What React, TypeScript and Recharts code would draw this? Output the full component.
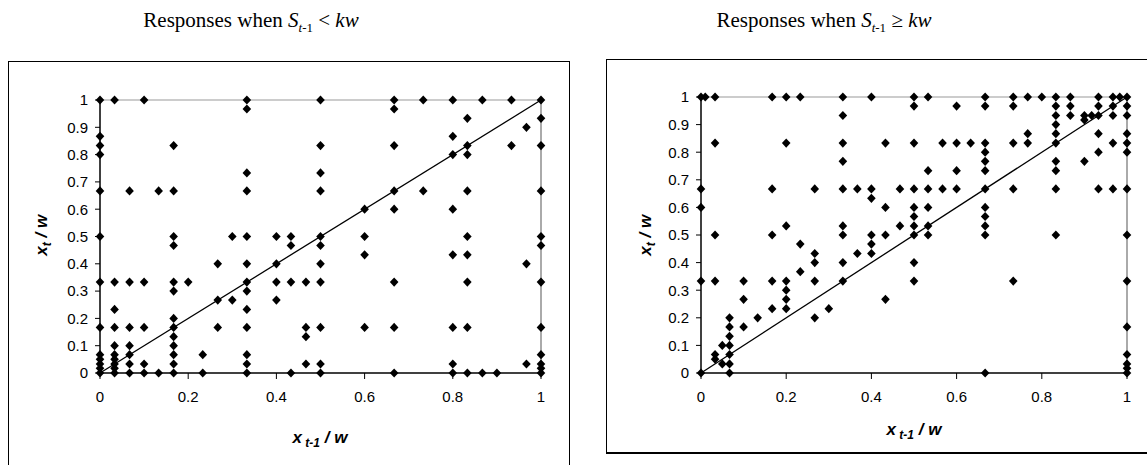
import React from "react";
import { ScatterChart, Scatter, XAxis, YAxis, ReferenceLine } from "recharts";

// rows: [y, x values...]
const leftRows: [number, number[]][] = [
  [1, [0, 0.033, 0.1, 0.333, 0.5, 0.667, 0.733, 0.8, 0.867, 0.933, 1]],
  [0.967, [0.333, 0.667]],
  [0.933, [0.833, 1]],
  [0.9, [0.967]],
  [0.867, [0, 0.8]],
  [0.833, [0, 0.167, 0.5, 0.667, 0.833, 0.933, 1]],
  [0.8, [0, 0.8, 0.833]],
  [0.733, [0.333, 0.5]],
  [0.667, [0, 0.067, 0.133, 0.167, 0.333, 0.5, 0.667, 0.733, 0.833, 1]],
  [0.6, [0.6, 0.667, 0.8]],
  [0.5, [0, 0.167, 0.3, 0.333, 0.4, 0.433, 0.5, 0.6, 0.833, 1]],
  [0.467, [0.167, 0.433, 0.5, 1]],
  [0.433, [0.6, 0.8, 0.833]],
  [0.4, [0.267, 0.333, 0.4, 0.5, 0.967]],
  [0.333, [0, 0.033, 0.067, 0.1, 0.167, 0.2, 0.333, 0.4, 0.433, 0.467, 0.5, 0.667, 0.833, 1]],
  [0.3, [0.167, 0.333]],
  [0.267, [0.267, 0.3, 0.4]],
  [0.233, [0.033, 0.333]],
  [0.2, [0.167]],
  [0.167, [0, 0.033, 0.067, 0.1, 0.167, 0.267, 0.333, 0.467, 0.5, 0.6, 0.667, 0.8, 0.833, 1]],
  [0.133, [0.167, 0.467]],
  [0.1, [0.033, 0.067, 0.167]],
  [0.067, [0, 0.033, 0.067, 0.167, 0.233, 0.333, 1]],
  [0.05, [0, 0.033]],
  [0.033, [0, 0.033, 0.067, 0.1, 0.167, 0.333, 0.467, 0.5, 0.8, 0.967, 1]],
  [0.017, [0, 0.033, 1]],
  [0, [0, 0.033, 0.067, 0.1, 0.133, 0.167, 0.233, 0.333, 0.433, 0.5, 0.667, 0.8, 0.833, 0.867, 0.9, 1]],
];

const rightRows: [number, number[]][] = [
  [1, [0, 0.01, 0.033, 0.167, 0.2, 0.233, 0.333, 0.4, 0.5, 0.533, 0.667, 0.733, 0.767, 0.8, 0.833, 0.867, 0.933, 0.967, 0.983, 1]],
  [0.967, [0.5, 0.6, 0.667, 0.733, 0.833, 0.867, 0.933, 0.967, 1]],
  [0.933, [0.333, 0.833, 0.867, 0.9, 0.917, 0.933, 0.967, 1]],
  [0.917, [0.9]],
  [0.9, [0.833]],
  [0.867, [0.767, 0.833, 0.933, 1]],
  [0.833, [0.033, 0.2, 0.333, 0.433, 0.5, 0.567, 0.6, 0.633, 0.667, 0.733, 0.767, 0.833, 0.967, 1]],
  [0.8, [0.667, 0.933, 1]],
  [0.767, [0.333, 0.667, 0.833, 0.9]],
  [0.733, [0.533, 0.6, 0.667, 0.833]],
  [0.667, [0, 0.167, 0.267, 0.333, 0.367, 0.4, 0.467, 0.5, 0.533, 0.567, 0.6, 0.667, 0.733, 0.833, 0.933, 0.967, 1]],
  [0.633, [0.4]],
  [0.6, [0, 0.433, 0.5, 0.533, 0.667]],
  [0.567, [0.5, 0.667]],
  [0.533, [0.2, 0.333, 0.467, 0.5, 0.533, 0.667]],
  [0.5, [0.033, 0.167, 0.333, 0.4, 0.433, 0.5, 0.533, 0.667, 0.833, 1]],
  [0.467, [0.233, 0.4]],
  [0.433, [0.267, 0.367, 0.4]],
  [0.4, [0.267, 0.333, 0.5]],
  [0.367, [0.233]],
  [0.333, [0, 0.033, 0.1, 0.167, 0.2, 0.267, 0.333, 0.5, 0.733, 1]],
  [0.3, [0.2]],
  [0.267, [0.1, 0.2, 0.433]],
  [0.233, [0.167, 0.2, 0.3]],
  [0.2, [0.067, 0.133, 0.267]],
  [0.167, [0.067, 0.1, 1]],
  [0.133, [0.067]],
  [0.1, [0.05, 0.067]],
  [0.067, [0.033, 0.067, 1]],
  [0.05, [0.033]],
  [0.033, [0.05, 0.067, 1]],
  [0.017, [1]],
  [0, [0, 0.067, 0.667, 1]],
];

const xTicks = [0, 0.2, 0.4, 0.6, 0.8, 1];
const yTicks = [0, 0.1, 0.2, 0.3, 0.4, 0.5, 0.6, 0.7, 0.8, 0.9, 1];

const toPoints = (rows: [number, number[]][]) =>
  rows.flatMap(([y, xs]) => xs.map((x) => ({ x, y })));

const Diamond = (p: any) => (
  <polygon
    points={`${p.cx},${p.cy - 4.6} ${p.cx + 4.3},${p.cy} ${p.cx},${p.cy + 4.6} ${p.cx - 4.3},${p.cy}`}
    fill="#000"
  />
);

const tickStyle = { fontFamily: "Liberation Sans, Arial", fontSize: 15, fill: "#000" };

function Panel({ rows, width, yAxisWidth, top, right }: any) {
  return (
    <ScatterChart width={width} height={465} margin={{ top, right, bottom: 62, left: 0 }}>
      <XAxis
        type="number" dataKey="x" domain={[0, 1]} ticks={xTicks}
        height={30} tickSize={6} tickMargin={12}
        axisLine={{ stroke: "#000", strokeWidth: 1.5 }} tickLine={{ stroke: "#000" }}
        tick={tickStyle}
      />
      <YAxis
        type="number" dataKey="y" domain={[0, 1]} ticks={yTicks}
        width={yAxisWidth} tickSize={5} tickMargin={7}
        axisLine={{ stroke: "#000", strokeWidth: 1.5 }} tickLine={{ stroke: "#000" }}
        tick={tickStyle}
      />
      <ReferenceLine y={1} stroke="#999" strokeWidth={1.2} />
      <ReferenceLine x={1} stroke="#aaa" strokeWidth={2} />
      <ReferenceLine segment={[{ x: 0, y: 0 }, { x: 1, y: 1 }]} stroke="#000" strokeWidth={1.3} />
      <Scatter data={toPoints(rows)} shape={Diamond} isAnimationActive={false} />
    </ScatterChart>
  );
}

const serif = "Liberation Serif, Times New Roman, serif";
const sans = "Liberation Sans, Arial, sans-serif";

export default function App() {
  return (
    <div style={{ position: "absolute", left: 0, top: 0, width: 1147, height: 465, overflow: "hidden", background: "#fff" }}>
      <div style={{ position: "absolute", left: 8, top: 61, width: 560, height: 420, border: "1.5px solid #000" }} />
      <div style={{ position: "absolute", left: 606, top: 59, width: 560, height: 392, border: "1.5px solid #000", borderBottomWidth: 2.5 }} />

      <div style={{ position: "absolute", left: 0, top: 8, width: 502, textAlign: "center", fontFamily: serif, fontSize: 21, whiteSpace: "nowrap" }}>
        Responses when <i>S</i><sub style={{ fontSize: 13 }}><i>t</i>-1</sub> &lt; <i>kw</i>
      </div>
      <div style={{ position: "absolute", left: 573, top: 8, width: 502, textAlign: "center", fontFamily: serif, fontSize: 21, whiteSpace: "nowrap" }}>
        Responses when <i>S</i><sub style={{ fontSize: 13 }}><i>t</i>-1</sub> ≥ <i>kw</i>
      </div>

      <div style={{ position: "absolute", left: 0, top: 0 }}>
        <Panel rows={leftRows} width={573} yAxisWidth={100} top={100} right={32} />
      </div>
      <div style={{ position: "absolute", left: 573, top: 0 }}>
        <Panel rows={rightRows} width={574} yAxisWidth={128} top={97} right={20} />
      </div>

      <div style={{ position: "absolute", left: 220, top: 428, width: 200, textAlign: "center", fontFamily: sans, fontSize: 17, fontWeight: "bold", fontStyle: "italic" }}>
        x<sub style={{ fontSize: 12 }}> t-1</sub> / w
      </div>
      <div style={{ position: "absolute", left: 814, top: 420, width: 200, textAlign: "center", fontFamily: sans, fontSize: 17, fontWeight: "bold", fontStyle: "italic" }}>
        x<sub style={{ fontSize: 12 }}> t-1</sub> / w
      </div>

      <div style={{ position: "absolute", left: -57, top: 224, width: 200, textAlign: "center", transform: "rotate(-90deg)", fontFamily: sans, fontSize: 17, fontWeight: "bold", fontStyle: "italic" }}>
        x<sub style={{ fontSize: 12 }}>t</sub> / w
      </div>
      <div style={{ position: "absolute", left: 547, top: 224, width: 200, textAlign: "center", transform: "rotate(-90deg)", fontFamily: sans, fontSize: 17, fontWeight: "bold", fontStyle: "italic" }}>
        x<sub style={{ fontSize: 12 }}>t</sub> / w
      </div>
    </div>
  );
}
